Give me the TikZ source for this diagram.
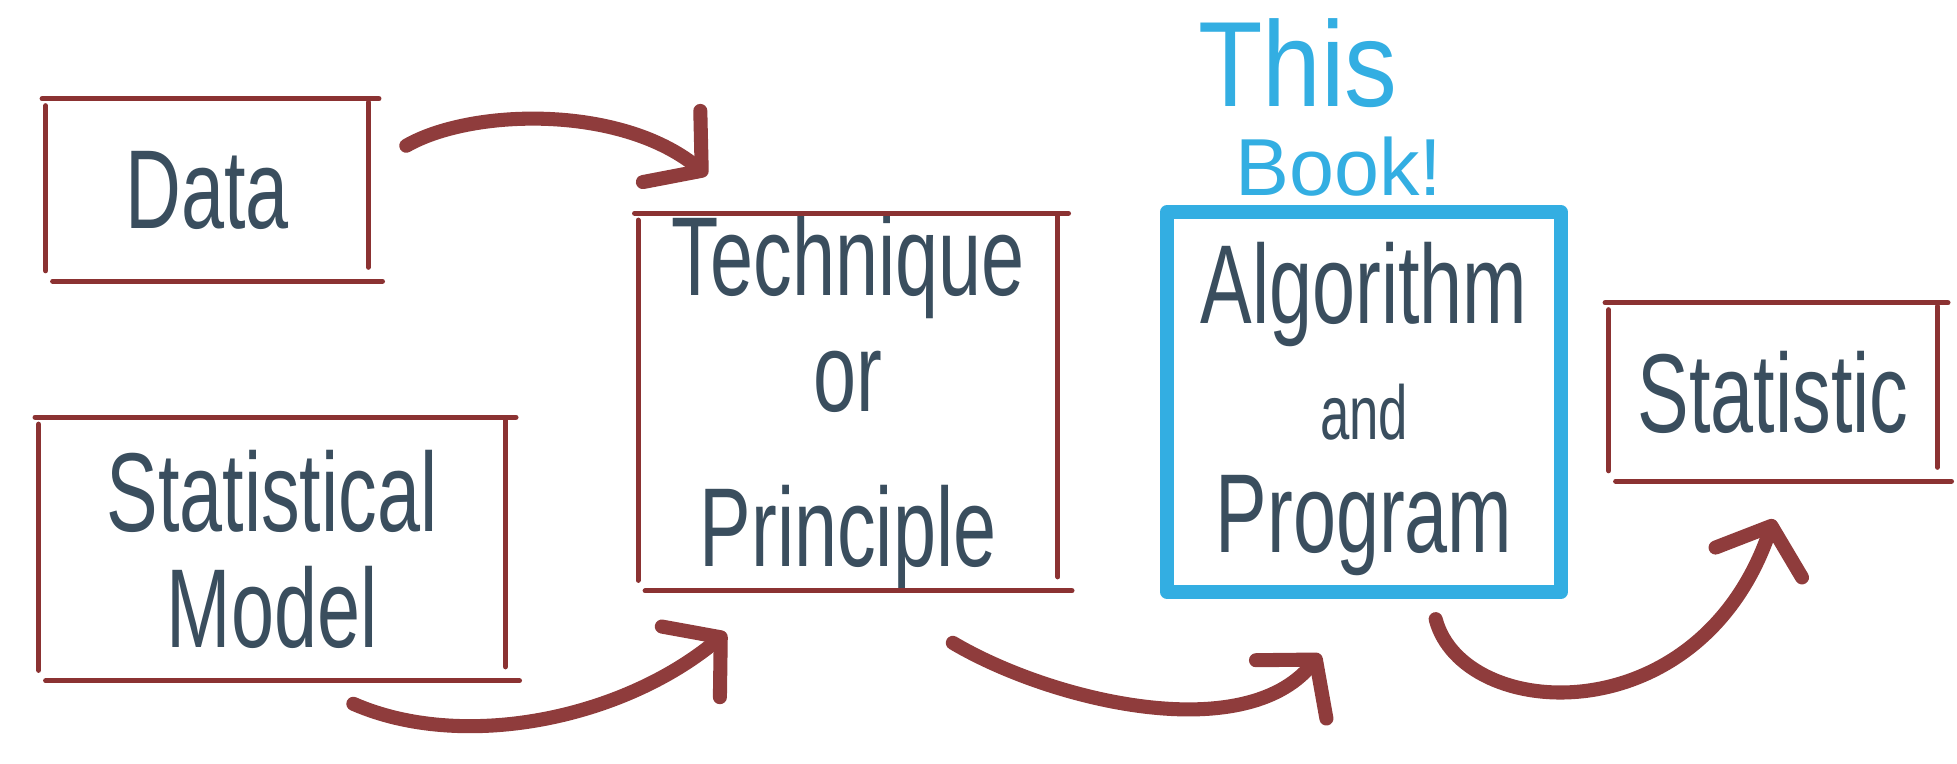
\documentclass[tikz,border=0pt]{standalone}
\usepackage{fontspec}
\usepackage{graphicx}
\setmainfont{Liberation Sans}
\usetikzlibrary{arrows.meta}

\definecolor{handred}{RGB}{143,60,60}
\definecolor{boxred}{RGB}{139,50,50}
\definecolor{bookblue}{RGB}{51,174,226}
\definecolor{ink}{RGB}{58,78,94}

% tall hand lettering
\newcommand\tall[2][1.45]{\scalebox{1}[#1]{#2}}
% four loose sides round a node
\newcommand\sketchbox[1]{%
  \draw[boxline] ([xshift=-1pt]#1.north west) -- ([xshift=3pt]#1.north east);
  \draw[boxline] ([yshift=-1pt]#1.north east) -- ([yshift=4pt]#1.south east);
  \draw[boxline] ([xshift=2pt]#1.south west) -- ([xshift=4pt]#1.south east);
  \draw[boxline] ([yshift=-2pt]#1.north west) -- ([yshift=3pt]#1.south west);
}

\tikzset{
  box/.style={rectangle, inner sep=0pt, text=ink, align=center,
    font=\fontsize{22}{24}\selectfont},
  boxline/.style={boxred, line width=1.5pt, line cap=round},
  flow/.style={handred, line width=4pt, line cap=round,
    -{Straight Barb[round,length=11pt,width=26pt]}},
}

\begin{document}
\begin{tikzpicture}[x=0.01cm, y=-0.01cm]
        \useasboundingbox (0,0) rectangle (1957,763);
        \node[box, minimum width=3.21cm, minimum height=1.81cm] (data) at (207,190) {\tall{Data}};
        \node[box, minimum width=4.65cm, minimum height=2.62cm] (model) at (272,549)
            {\tall{Statistical}\\[9pt]\tall{Model}};
        \node[box, minimum width=4.18cm, minimum height=3.76cm] (tech) at (848,402)
            {\tall{Technique}\\[9pt]\tall{or}\\[20pt]\tall{Principle}};
        \node[box, draw=bookblue, line width=4pt, line join=round,
            minimum width=3.93cm, minimum height=3.8cm] (algo) at (1364,402)
            {\rule{0pt}{27pt}\tall{Algorithm}\\[9pt]{\fontsize{15}{17}\selectfont\tall{and}}\\[8pt]\tall{Program}};
        \node[box, minimum width=3.27cm, minimum height=1.77cm] (stat) at (1773,392) {\tall{Statistic}};
        \sketchbox{data}
        \sketchbox{model}
        \sketchbox{tech}
        \sketchbox{stat}
        % this book!
        \node[text=bookblue, font=\fontsize{30}{34}\selectfont] (this) at (1298,63) {\tall[1.15]{This}};
        \node[text=bookblue, font=\fontsize{23}{28}\selectfont] (book) at (1339,167) {Book!};
        % flow of the work
        \draw[flow] ([shift={(38,47)}]data.north east) .. controls +(64,-37) and +(-88,-71) .. ([shift={(69,-38)}]tech.north west);
        \draw[flow] ([shift={(-152,23)}]model.south east) .. controls +(107,47) and +(-107,88) .. ([shift={(88,42)}]tech.south west);
        \draw[flow] ([shift={(-105,52)}]tech.south east) .. controls +(98,58) and +(-77,93) .. ([shift={(160,55)}]algo.south west);
        \draw[flow] ([shift={(-132,20)}]algo.south east) .. controls +(27,103) and +(-75,217) .. ([shift={(165,38)}]stat.south west);
\end{tikzpicture}
\end{document}
